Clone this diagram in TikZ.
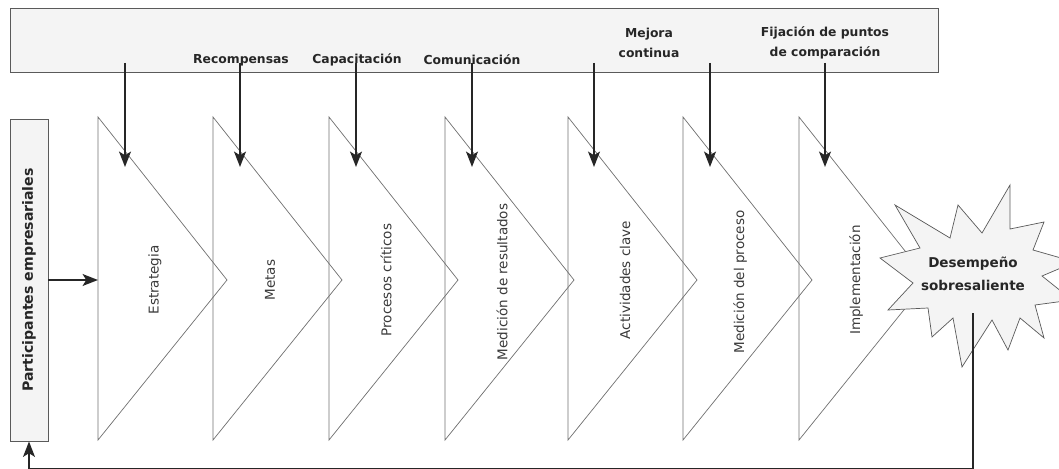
\documentclass[tikz,border=0pt]{standalone}
\usepackage{fontspec}
\setmainfont{DejaVu Sans}
\usetikzlibrary{arrows.meta}
\definecolor{fondo}{HTML}{F4F4F4}
\definecolor{borde}{HTML}{5A5A5A}
\definecolor{linea}{HTML}{707070}
\definecolor{texto}{HTML}{3A3A3A}
\tikzset{
  caja/.style={draw=borde, fill=fondo, line width=0.8pt},
  flecha/.style={line width=2pt, draw=black!85, -{Stealth[length=13pt,width=10pt,inset=3pt]}},
  retorno/.style={line width=2pt, draw=black!85},
  triang/.style={draw=linea, line width=0.6pt},
  etiq/.style={font=\bfseries\fontsize{10.5}{17}\selectfont, text=black!85, align=center, inner sep=0pt},
  fase/.style={font=\fontsize{11.5}{13}\selectfont, text=texto, rotate=90, inner sep=0pt}
}
\begin{document}
\begin{tikzpicture}[x=0.85pt, y=-0.85pt]
\useasboundingbox (0,0) rectangle (1059,469);

\draw[caja] (10,8) rectangle (938,72);
\node[etiq] (recomp) at (241,60) {Recompensas};
\node[etiq] (capac) at (357,60) {Capacitación};
\node[etiq] (comun) at (472,60) {Comunicación};
\node[etiq] (mejora) at (649,43) {Mejora\\continua};
\node[etiq] (fijac) at (825,43) {Fijación de puntos\\de comparación};

\draw[triang] (98,117) -- (227,280) -- (98,440) -- cycle;
\draw[triang] (213,117) -- (342,280) -- (213,440) -- cycle;
\draw[triang] (329,117) -- (458,280) -- (329,440) -- cycle;
\draw[triang] (445,117) -- (574,280) -- (445,440) -- cycle;
\draw[triang] (568,117) -- (697,280) -- (568,440) -- cycle;
\draw[triang] (683,117) -- (812,280) -- (683,440) -- cycle;
\draw[triang] (799,117) -- (928,280) -- (799,440) -- cycle;

\node[fase] (f1) at (155,280) {Estrategia};
\node[fase] (f2) at (270,280) {Metas};
\node[fase] (f3) at (386,280) {Procesos críticos};
\node[fase] (f4) at (502,282) {Medición de resultados};
\node[fase] (f5) at (625,280) {Actividades clave};
\node[fase] (f6) at (740,282) {Medición del proceso};
\node[fase] (f7) at (856,280) {Implementación};

\coordinate (s1) at (125,63);
\coordinate (s2) at (240,63);
\coordinate (s3) at (356,63);
\coordinate (s4) at (472,63);
\coordinate (s5) at (594,63);
\coordinate (s6) at (710,63);
\coordinate (s7) at (825,63);
\coordinate (e1) at (125,167);
\coordinate (e2) at (240,167);
\coordinate (e3) at (356,167);
\coordinate (e4) at (472,167);
\coordinate (e5) at (594,167);
\coordinate (e6) at (710,167);
\coordinate (e7) at (825,167);
\draw[flecha] (s1) -- (e1);
\draw[flecha] (s2) -- (e2);
\draw[flecha] (s3) -- (e3);
\draw[flecha] (s4) -- (e4);
\draw[flecha] (s5) -- (e5);
\draw[flecha] (s6) -- (e6);
\draw[flecha] (s7) -- (e7);

\node[caja, rotate=90, minimum width=273.7pt, minimum height=32.3pt, inner sep=0pt,
  font=\bfseries\fontsize{12}{14}\selectfont, text=black!85] (part) at (29,280) {Participantes empresariales};
\coordinate (t1) at (98,280);
\draw[flecha] (part.south) -- (t1);

\draw[fill=fondo, draw=borde, line width=0.6pt] (895,205) -- (950,238) -- (958,205) -- (982,233) -- (1010,185) -- (1010,229)
  -- (1044,222) -- (1033,250) -- (1075,262) -- (1042,276) -- (1072,300) -- (1035,305) -- (1044,338) -- (1020,318)
  -- (1008,350) -- (992,320) -- (962,367) -- (953,318) -- (932,337) -- (928,308) -- (888,310) -- (913,283)
  -- (880,258) -- (920,248) -- cycle;
\node[etiq, font=\bfseries\fontsize{11.5}{19.5}\selectfont] (logro) at (973,274) {Desempeño\\sobresaliente};

\coordinate (sal) at (973,313);
\coordinate (abajo) at (973,469.5);
\draw[retorno] (sal) -- (abajo);
\draw[flecha] (abajo) -| (part.west);
\end{tikzpicture}
\end{document}
